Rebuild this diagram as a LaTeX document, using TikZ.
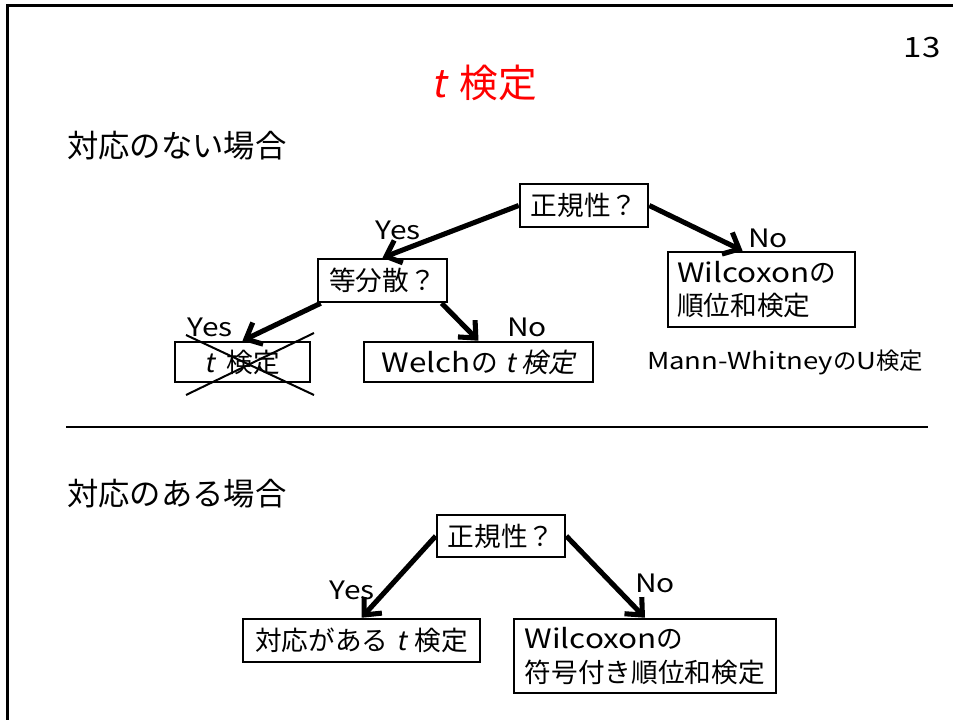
\documentclass[tikz,border=0pt]{standalone}
\usepackage{fontspec}
\setmainfont{Noto Sans CJK JP}
\newfontfamily\slfont[FakeSlant=0.2]{Noto Sans CJK JP}
\newfontfamily\lat[FakeStretch=1.18]{Noto Sans CJK JP}
\usetikzlibrary{arrows.meta,calc}
\tikzset{
  box/.style={draw, line width=1.9pt, inner sep=0pt, font=\fontsize{20}{25}\selectfont},
  flow/.style={line width=3.8pt, -{Straight Barb[length=10pt,width=18pt,line width=3.8pt]}},
  lab/.style={font=\fontsize{19}{23}\selectfont\lat, inner sep=0pt},
  head/.style={font=\fontsize{23.5}{28}\selectfont, inner sep=0pt, anchor=west},
}
\begin{document}
\begin{tikzpicture}[x=0.75pt,y=-0.75pt]
\useasboundingbox (0,0) rectangle (953,720);
% slide frame
\draw[line width=2.25pt] (7,730) -- (7,6) -- (965,6);
\node[font=\fontsize{21}{24}\selectfont\lat] (pg) at (922,48) {13};
\node[text=red, font=\fontsize{29}{34}\selectfont] (title) at (484,83) {{\slfont t}\hspace{0.35em}検定};
% upper part
\node[head] (h1) at (67,146) {対応のない場合};
\node[box, minimum width=96pt, minimum height=32.25pt] (n1) at (584,205.5) {正規性？};
\node[box, minimum width=96.75pt, minimum height=32.25pt] (n2) at (382.5,280.5) {等分散？};
\node[box, minimum width=101.25pt, minimum height=30pt] (n3) at (242.5,362) {{\slfont t}\hspace{0.45em}検定};
\node[box, minimum width=171.75pt, minimum height=30pt] (n4) at (478.5,362) {{\lat Welch}の\hspace{0.3em}{\slfont t 検定}};
\node[box, minimum height=56.25pt, inner xsep=6.75pt, text width=126.75pt, align=left] (n5) at (761.5,289.5) {{\lat Wilcoxon}の\\順位和検定};
\node[font=\fontsize{17.5}{22}\selectfont] (mw) at (785,362) {{\lat Mann-Whitney}の{\lat U}検定};
\draw[flow] (n1.west) -- (n2.north);
\draw[flow] (n1.east) -- ($(n5.north west)!0.4!(n5.north east)$);
\draw[flow] ($(n2.south west)!0.03!(n2.south east)$) -- (n3.north);
\draw[flow] ($(n2.south west)!0.95!(n2.south east)$) -- (n4.north);
\node[lab] (y1) at (398,230) {Yes};
\node[lab] (no1) at (768,238) {No};
\node[lab] (y2) at (210,327) {Yes};
\node[lab] (no2) at (527,327) {No};
% cross over the t-test box
\draw[line width=1.5pt] (186,335) -- (314,395);
\draw[line width=1.5pt] (186,395) -- (314,333);
% separator
\draw[line width=2pt] (66,427) -- (928,427);
% lower part
\node[head] (h2) at (67,494) {対応のある場合};
\node[box, minimum width=96pt, minimum height=31.5pt] (n6) at (501,536) {正規性？};
\node[box, minimum width=177.75pt, minimum height=32.25pt] (n7) at (361.5,640.5) {対応がある\hspace{0.3em}{\slfont t}\hspace{0.3em}検定};
\node[box, minimum height=55.5pt, inner xsep=8pt, text width=180.5pt, align=left] (n8) at (645,656) {{\lat Wilcoxon}の\\符号付き順位和検定};
\draw[flow] (n6.west) -- (n7.north);
\draw[flow] (n6.east) -- (n8.north);
\node[lab] (y3) at (352,590) {Yes};
\node[lab] (no3) at (655,583) {No};
\end{tikzpicture}
\end{document}
